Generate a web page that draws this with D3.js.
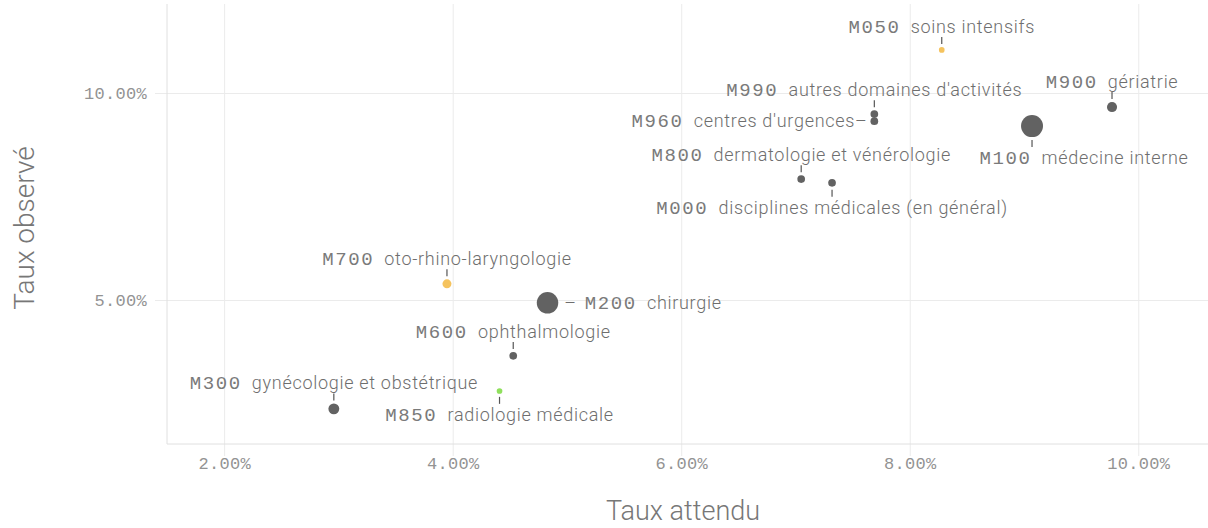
<!DOCTYPE html>
<html>
<head>
<meta charset="utf-8">
<script src="https://cdn.jsdelivr.net/npm/d3@7"></script>
<style>
  html, body { margin: 0; padding: 0; background: #ffffff; }
  svg { display: block; }
</style>
</head>
<body>
<svg id="chart" width="1208" height="528"></svg>
<script>
// ---- Data ----
const codes    = ["M050", "M990", "M960", "M900", "M100", "M800", "M000", "M700", "M200", "M600", "M850", "M300"];
const names    = ["soins intensifs", "autres domaines d'activités", "centres d'urgences", "gériatrie",
                  "médecine interne", "dermatologie et vénérologie", "disciplines médicales (en général)",
                  "oto-rhino-laryngologie", "chirurgie", "ophthalmologie", "radiologie médicale",
                  "gynécologie et obstétrique"];
const expectedRate = [8.28, 7.69, 7.69, 9.77, 9.07, 7.05, 7.32, 3.95, 4.83, 4.53, 4.41, 2.96]; // %
const observedRate = [11.04, 9.49, 9.32, 9.66, 9.20, 7.92, 7.83, 5.39, 4.93, 3.65, 2.80, 2.37]; // %
const volume       = [60, 110, 110, 190, 900, 110, 110, 150, 860, 110, 60, 220];
const status       = ["above", "normal", "normal", "normal", "normal", "normal", "normal", "above", "normal", "normal", "below", "normal"];
const xTicks = [2, 4, 6, 8, 10];
const yTicks = [5, 10];
const xTitle = "Taux attendu";
const yTitle = "Taux observé";

// ---- Layout (label placement, not data) ----
const labelLayout = {
  M050: { dir: "up" }, M990: { dir: "up" }, M960: { dir: "left" }, M900: { dir: "up" },
  M100: { dir: "down", dx: 52 }, M800: { dir: "up" }, M000: { dir: "down" }, M700: { dir: "up" },
  M200: { dir: "right" }, M600: { dir: "up" }, M850: { dir: "down" }, M300: { dir: "up" }
};
const colors = { normal: "#626262", above: "#f5c35e", below: "#8fe05c" };

const W = 1208, H = 528;
const plot = { left: 167, right: 1208, top: 4, bottom: 444 };

const svg = d3.select("#chart");
const x = d3.scaleLinear().domain([1.5, 10.61]).range([plot.left, plot.right]);
const y = d3.scaleLinear().domain([1.52, 12.15]).range([plot.bottom, plot.top]);
const r = d3.scaleSqrt().domain([0, 900]).range([0, 11]);

const fmt = d => d.toFixed(2) + "%";
const monoFont = "'Liberation Mono', 'DejaVu Sans Mono', monospace";
const textFont = "Roboto, 'Open Sans', sans-serif";

// X axis with grid lines
const xAxis = d3.axisBottom(x).tickValues(xTicks).tickFormat(fmt)
  .tickSize(-(456 - plot.top)).tickPadding(1);
const gx = svg.append("g").attr("transform", `translate(0,456)`).call(xAxis);
gx.select(".domain").remove();
gx.selectAll(".tick line").attr("stroke", "#ebebeb").attr("stroke-width", 1);
gx.selectAll(".tick text").attr("fill", "#939393").attr("font-family", monoFont).attr("font-size", 17)
  .attr("letter-spacing", 0.3);

// Y axis with grid lines
const yAxis = d3.axisLeft(y).tickValues(yTicks).tickFormat(fmt)
  .tickSize(-(plot.right - 155)).tickPadding(8);
const gy = svg.append("g").attr("transform", `translate(155,0)`).call(yAxis);
gy.select(".domain").remove();
gy.selectAll(".tick line").attr("stroke", "#ebebeb").attr("stroke-width", 1);
gy.selectAll(".tick text").attr("fill", "#939393").attr("font-family", monoFont).attr("font-size", 17)
  .attr("letter-spacing", 0.3);

// plot borders (left & bottom)
svg.append("line").attr("x1", plot.left).attr("x2", plot.left).attr("y1", plot.top).attr("y2", plot.bottom)
  .attr("stroke", "#e0e0e0");
svg.append("line").attr("x1", plot.left).attr("x2", plot.right).attr("y1", plot.bottom).attr("y2", plot.bottom)
  .attr("stroke", "#e0e0e0");

// axis titles
svg.append("text").attr("x", 683).attr("y", 520)
  .attr("text-anchor", "middle").attr("font-family", textFont).attr("font-weight", 300)
  .attr("font-size", 27).attr("fill", "#777").text(xTitle);
svg.append("text").attr("transform", `translate(34,228) rotate(-90)`)
  .attr("text-anchor", "middle").attr("font-family", textFont).attr("font-weight", 300)
  .attr("font-size", 28).attr("fill", "#777").text(yTitle);

// data records
const data = codes.map((c, i) => ({
  code: c, name: names[i], ex: expectedRate[i], ob: observedRate[i], vol: volume[i], st: status[i]
}));

// points
svg.append("g").selectAll("circle").data(data).join("circle")
  .attr("cx", d => x(d.ex)).attr("cy", d => y(d.ob)).attr("r", d => r(d.vol))
  .attr("fill", d => colors[d.st]);

// labels
const lg = svg.append("g");
data.forEach(d => {
  const px = x(d.ex), py = y(d.ob), rr = r(d.vol);
  const lay = labelLayout[d.code];
  const dx = lay.dx || 0;
  let tx, ty, anchor = "middle";
  if (lay.dir === "up") {
    lg.append("line").attr("x1", px).attr("x2", px).attr("y1", py - rr - 3).attr("y2", py - rr - 10)
      .attr("stroke", "#555").attr("stroke-width", 1.2);
    tx = px + dx; ty = py - rr - 14;
  } else if (lay.dir === "down") {
    lg.append("line").attr("x1", px).attr("x2", px).attr("y1", py + rr + 3).attr("y2", py + rr + 10)
      .attr("stroke", "#555").attr("stroke-width", 1.2);
    tx = px + dx; ty = py + rr + 27;
  } else if (lay.dir === "left") {
    tx = px - rr - 3; ty = py + 6; anchor = "end";
  } else {
    tx = px + rr + 6; ty = py + 6; anchor = "start";
  }
  const t = lg.append("text").attr("x", tx).attr("y", ty).attr("text-anchor", anchor)
    .attr("font-size", 18).attr("fill", "#6e6e6e");
  if (lay.dir === "right") {
    t.append("tspan").attr("font-family", textFont).attr("font-weight", 300).text("–\u00a0\u00a0");
  }
  t.append("tspan").attr("font-family", monoFont).attr("font-size", 19).attr("letter-spacing", 1.6)
    .attr("fill", "#7a7a7a").text(d.code);
  t.append("tspan").attr("font-family", textFont).attr("font-weight", 300).attr("letter-spacing", 0.7)
    .text("\u00a0\u00a0" + d.name + (lay.dir === "left" ? "–" : ""));
});
</script>
</body>
</html>
